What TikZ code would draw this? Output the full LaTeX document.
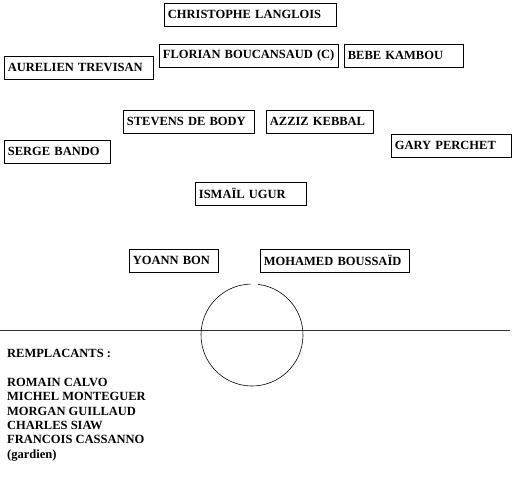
\documentclass[tikz,border=0pt]{standalone}
\usepackage{fontspec}
\setmainfont{Liberation Serif}
\usepackage{tikz}
\usetikzlibrary{positioning}
\tikzset{
	playerbox/.style={
			draw=black,
			line width=0.8pt,
			anchor=north west,
			inner xsep=3.5pt,
			inner ysep=0pt,
			minimum height=22.5pt,
			align=left,
			font=\fontsize{12.5}{14.4}\selectfont\bfseries
		},
	benchlist/.style={
			anchor=north west,
			inner sep=0pt,
			align=left,
			font=\fontsize{12.5}{14.4}\selectfont\bfseries
		},
	pitchline/.style={
			draw=black!80,
			line width=0.8pt
		}
}

\begin{document}
\begin{tikzpicture}[x=1pt, y=-1pt]
\useasboundingbox (0,0) rectangle (519,479);

\node[playerbox, text width=165pt] (langlois) at (164,3)  {CHRISTOPHE LANGLOIS};
\node[playerbox, text width=142pt] (trevisan) at (4,56)  {AURELIEN TREVISAN};
\node[playerbox, text width=172pt] (boucansaud) at (159,44)  {FLORIAN BOUCANSAUD (C)};
\node[playerbox, text width=112pt] (kambou) at (344,44)  {BEBE KAMBOU};
\node[playerbox, text width=124pt] (debody) at (123,110)  {STEVENS DE BODY};
\node[playerbox, text width=100pt] (kebbal) at (266,110)  {AZZIZ KEBBAL};
\node[playerbox, text width=99pt] (bando) at (4,140)  {SERGE BANDO};
\node[playerbox, text width=113pt] (perchet) at (391,134)  {GARY PERCHET};
\node[playerbox, text width=104pt] (ugur) at (195,182)  {ISMAÏL UGUR};
\node[playerbox, text width=82pt] (bon) at (129,249)  {YOANN BON};
\node[playerbox, text width=142pt] (boussaid) at (260,249)  {MOHAMED BOUSSAÏD};

% halfway line and centre circle
\draw[pitchline] (0,330) -- (510,330);
\draw[line width=0.6pt] (252,335) ++(277:51) arc[start angle=277, end angle=628.5, radius=51];

\node[benchlist] (bench) at (7,349) {REMPLACANTS :\\[14.4pt]
ROMAIN CALVO\\
MICHEL MONTEGUER\\
MORGAN GUILLAUD\\
CHARLES SIAW\\
FRANCOIS CASSANNO\\
(gardien)};
\end{tikzpicture}
\end{document}
